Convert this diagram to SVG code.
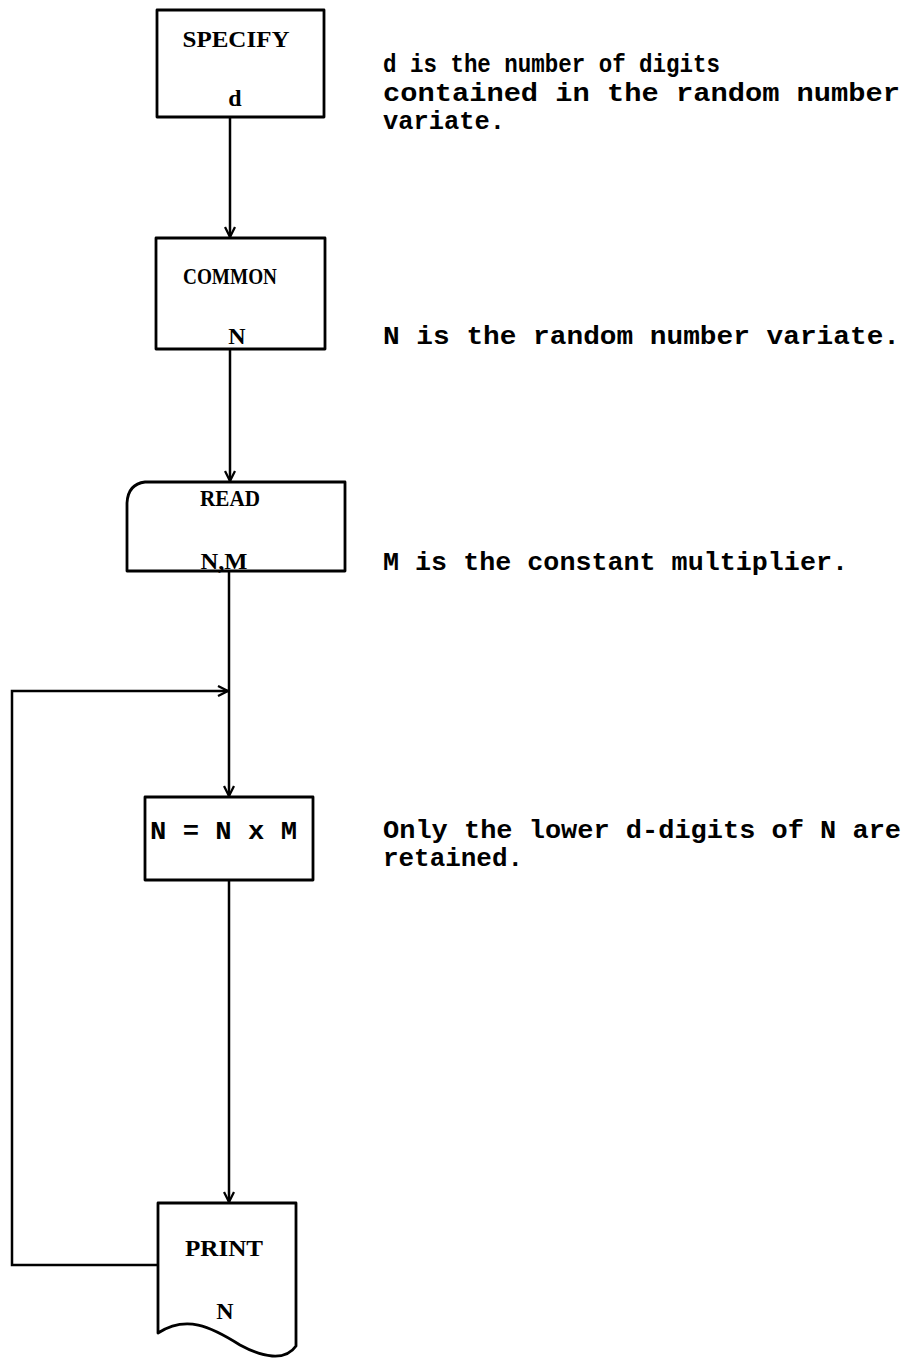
<svg xmlns="http://www.w3.org/2000/svg" width="903" height="1359" viewBox="0 0 903 1359">
<style>
.shape{fill:none;stroke:#000;stroke-width:2.8;stroke-linejoin:round}
.conn{fill:none;stroke:#000;stroke-width:2.5}
.lbl{font-family:"Liberation Serif",serif;font-weight:bold;font-size:24px;fill:#000;text-anchor:middle}
.mono{font-family:"Liberation Mono",monospace;font-weight:bold;font-size:25px;fill:#000}
</style>
<defs>
<marker id="ah" viewBox="0 0 12 12" refX="11" refY="6" markerWidth="12" markerHeight="12" markerUnits="userSpaceOnUse" orient="auto">
<path d="M1,1 L11,6 L1,11" fill="none" stroke="#000" stroke-width="2.3"/>
</marker>
</defs>
<rect width="903" height="1359" fill="#fff"/>
<g id="connectors">
<line class="conn" x1="230" y1="117" x2="230" y2="237" marker-end="url(#ah)"/>
<line class="conn" x1="230" y1="349" x2="230" y2="481" marker-end="url(#ah)"/>
<line class="conn" x1="229" y1="571" x2="229" y2="796" marker-end="url(#ah)"/>
<line class="conn" x1="229" y1="880" x2="229" y2="1202" marker-end="url(#ah)"/>
<path class="conn" d="M158,1265 L12,1265 L12,691 L228,691" marker-end="url(#ah)"/>
</g>
<g id="specify">
<rect class="shape" x="157" y="10" width="167" height="107"/>
<text class="lbl" x="236" y="47" textLength="107" lengthAdjust="spacingAndGlyphs">SPECIFY</text>
<text class="lbl" x="235" y="106">d</text>
</g>
<g id="common">
<rect class="shape" x="156" y="238" width="169" height="111"/>
<text class="lbl" x="230" y="284" textLength="94" lengthAdjust="spacingAndGlyphs">COMMON</text>
<text class="lbl" x="237" y="344">N</text>
</g>
<g id="read">
<path class="shape" d="M127,571 L127,503 Q128,484 145,482 L345,482 L345,571 Z"/>
<text class="lbl" x="230" y="506" textLength="60" lengthAdjust="spacingAndGlyphs">READ</text>
<text class="lbl" x="224" y="569" textLength="47" lengthAdjust="spacingAndGlyphs">N,M</text>
</g>
<g id="multiply">
<rect class="shape" x="145" y="797" width="168" height="83"/>
<text class="mono" x="150" y="839" textLength="147" lengthAdjust="spacingAndGlyphs">N = N x M</text>
</g>
<g id="print">
<path class="shape" d="M158,1333 L158,1203 L296,1203 L296,1346 C285,1362 262,1357 240,1345 C210,1326 186,1315 158,1333 Z"/>
<text class="lbl" x="224" y="1256" textLength="78" lengthAdjust="spacingAndGlyphs">PRINT</text>
<text class="lbl" x="225" y="1319">N</text>
</g>
<g id="notes">
<text class="mono" x="383" y="72" textLength="337" lengthAdjust="spacingAndGlyphs">d is the number of digits</text>
<text class="mono" x="383" y="101" textLength="517" lengthAdjust="spacingAndGlyphs">contained in the random number</text>
<text class="mono" x="383" y="129" textLength="122" lengthAdjust="spacingAndGlyphs">variate.</text>
<text class="mono" x="383" y="344" textLength="517" lengthAdjust="spacingAndGlyphs">N is the random number variate.</text>
<text class="mono" x="383" y="570" textLength="465" lengthAdjust="spacingAndGlyphs">M is the constant multiplier.</text>
<text class="mono" x="383" y="838" textLength="518" lengthAdjust="spacingAndGlyphs">Only the lower d-digits of N are</text>
<text class="mono" x="383" y="866" textLength="140" lengthAdjust="spacingAndGlyphs">retained.</text>
</g>
</svg>
